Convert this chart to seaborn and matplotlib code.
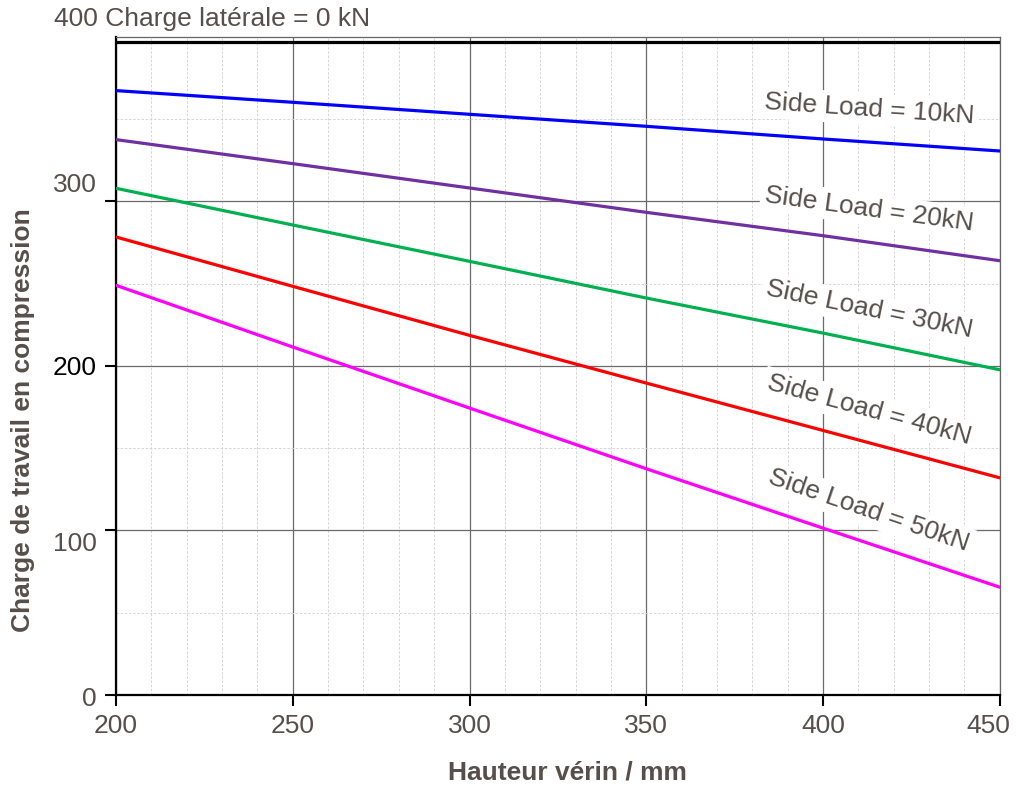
import numpy as np
import pandas as pd
import seaborn as sns
import matplotlib.pyplot as plt
from matplotlib.ticker import MultipleLocator
from matplotlib.transforms import ScaledTranslation

# values
hauteur = [200, 250, 300, 350, 400, 450]
charge_0kn = [397, 397, 397, 397, 397, 397]
charge_10kn = [367.4, 360.3, 353.0, 345.7, 338.0, 330.7]
charge_20kn = [337.6, 323.0, 308.2, 293.4, 279.2, 264.0]
charge_30kn = [308.0, 285.7, 263.6, 241.3, 220.0, 197.7]
charge_40kn = [278.4, 248.4, 218.6, 189.6, 160.8, 132.0]
charge_50kn = [249.0, 211.5, 174.4, 137.5, 101.4, 65.5]

series_names = ["0kN", "10kN", "20kN", "30kN", "40kN", "50kN"]
series_colors = ["#000000", "#0000ff", "#7030a0", "#00b050", "#ff0000", "#ff00ff"]
side_labels = ["Side Load = 10kN", "Side Load = 20kN", "Side Load = 30kN",
               "Side Load = 40kN", "Side Load = 50kN"]
x_ticks = [200, 250, 300, 350, 400, 450]
y_ticks = [0, 100, 200, 300]

TXT = "#574f49"

all_series = [charge_0kn, charge_10kn, charge_20kn, charge_30kn, charge_40kn, charge_50kn]
df = pd.DataFrame({
    "hauteur": hauteur * len(series_names),
    "charge": np.concatenate(all_series),
    "serie": np.repeat(series_names, len(hauteur)),
})

sns.set_theme(style="white")
plt.rcParams["font.family"] = ["Liberation Sans", "DejaVu Sans"]

fig = plt.figure(figsize=(10.18, 7.87), dpi=100)
ax = fig.add_axes([0.114, 0.117, 0.868, 0.836])

sns.lineplot(data=df, x="hauteur", y="charge", hue="serie",
             palette=dict(zip(series_names, series_colors)),
             linewidth=2.3, legend=False, ax=ax, zorder=3)

ax.set_xlim(200, 450)
ax.set_ylim(0, 400)
ax.set_xticks(x_ticks)
ax.set_yticks(y_ticks)
ax.xaxis.set_minor_locator(MultipleLocator(10))
ax.yaxis.set_minor_locator(MultipleLocator(50))

ax.set_axisbelow(True)
ax.grid(which="major", color="#6a6a6a", linewidth=0.9)
ax.grid(which="minor", color="#d0d0d0", linewidth=0.6, linestyle=(0, (3, 2)))

for side in ["left", "bottom"]:
    ax.spines[side].set_color("black")
    ax.spines[side].set_linewidth(1.6)
for side in ["top", "right"]:
    ax.spines[side].set_color("#666666")
    ax.spines[side].set_linewidth(0.9)

ax.tick_params(which="major", direction="out", length=8, width=1.5, color="black",
               labelsize=19, labelcolor=TXT, pad=6, left=True, bottom=True)
ax.tick_params(which="minor", length=0)

# per-label nudges as in the reference
nudges = {0: -2, 100: -11, 200: 0, 300: 19}
for lab, val in zip(ax.get_yticklabels(), y_ticks):
    lab.set_transform(lab.get_transform() +
                      ScaledTranslation(0, nudges[val] / 100, fig.dpi_scale_trans))
    if val == 200:
        lab.set_color("black")
last_x = ax.get_xticklabels()[-1]
last_x.set_transform(last_x.get_transform() +
                     ScaledTranslation(-11 / 100, 0, fig.dpi_scale_trans))

ax.set_xlabel("Hauteur vérin / mm", fontsize=19, fontweight="bold", color=TXT)
ax.set_ylabel("Charge de travail en compression", fontsize=19, fontweight="bold", color=TXT)
ax.xaxis.set_label_coords(0.511, -0.099)
ax.yaxis.set_label_coords(-0.092, 0.418)

ax.text(-0.070, 1.027, "400 Charge latérale = 0 kN", transform=ax.transAxes,
        ha="left", va="center", fontsize=19, color=TXT)

# side load labels following each line
label_x = 413
for name, vals in zip(side_labels, all_series[1:]):
    slope_deg = np.degrees(np.arctan2(vals[-1] - vals[0], hauteur[-1] - hauteur[0]))
    y = np.interp(label_x, hauteur, vals) + 20
    ax.text(label_x, y, name, ha="center", va="center", fontsize=19, color=TXT,
            rotation=slope_deg, rotation_mode="anchor", transform_rotates_text=True,
            zorder=1.5,
            bbox=dict(boxstyle="square,pad=0.15", facecolor="white", edgecolor="none"))

fig.savefig("out.png", dpi=100)
